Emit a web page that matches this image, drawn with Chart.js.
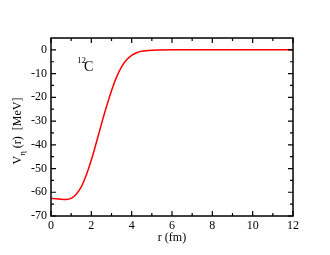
<!DOCTYPE html>
<html>
<head>
<meta charset="utf-8">
<script src="https://cdn.jsdelivr.net/npm/chart.js@4.4.0/dist/chart.umd.min.js"></script>
<style>
  html, body { margin: 0; padding: 0; background: #fff; }
  #wrap { width: 330px; height: 255px; position: relative; }
</style>
</head>
<body>
<div id="wrap"><canvas id="pot"></canvas></div>
<script>
// potencial V_eta(r) para 12C
const rVals = [0, 0.25, 0.5, 0.75, 1.0, 1.25, 1.5, 1.75, 2.0, 2.25, 2.5, 2.75, 3.0, 3.25, 3.5, 3.75, 4.0, 4.25, 4.5, 5.0, 5.5, 6, 7, 8, 9, 10, 11, 12];
const vVals = [-62.6, -62.7, -62.9, -63.0, -62.6, -60.8, -57.7, -52.7, -46.4, -39.0, -31.3, -24.0, -17.2, -11.5, -7.2, -4.2, -2.3, -1.2, -0.6, -0.15, -0.05, 0, 0, 0, 0, 0, 0, 0];
const xTicks = [0, 2, 4, 6, 8, 10, 12];
const yTicks = [-70, -60, -50, -40, -30, -20, -10, 0];

const SERIF = "'Liberation Serif', 'DejaVu Serif', serif";

// ticks hacia adentro en los cuatro lados + títulos
const frame = {
  id: 'frame',
  afterDraw(c) {
    const { ctx, chartArea: a, scales: { x, y } } = c;
    ctx.save();
    ctx.strokeStyle = '#000';
    ctx.lineWidth = 1.5;
    ctx.strokeRect(a.left, a.top, a.right - a.left, a.bottom - a.top);
    ctx.lineWidth = 1.2;
    ctx.beginPath();
    for (let v = 0; v <= 12; v++) {
      const px = x.getPixelForValue(v);
      const len = v % 2 === 0 ? 5 : 3;
      ctx.moveTo(px, a.bottom); ctx.lineTo(px, a.bottom - len);
      ctx.moveTo(px, a.top); ctx.lineTo(px, a.top + len);
    }
    for (let v = -70; v <= 0; v += 5) {
      const py = y.getPixelForValue(v);
      const len = v % 10 === 0 ? 5 : 3;
      ctx.moveTo(a.left, py); ctx.lineTo(a.left + len, py);
      ctx.moveTo(a.right, py); ctx.lineTo(a.right - len, py);
    }
    ctx.stroke();

    // título eje y: V_η (r)  [MeV]
    ctx.fillStyle = '#000';
    ctx.translate(21, (a.top + a.bottom) / 2 + 4);
    ctx.rotate(-Math.PI / 2);
    ctx.textBaseline = 'alphabetic';
    const parts = [['V', 0, 12], ['η', 4, 9], [' (r)  [MeV]', 0, 12]];
    const total = parts.reduce((s, p) => { ctx.font = p[2] + 'px ' + SERIF; return s + ctx.measureText(p[0]).width; }, 0);
    let cx = -total / 2;
    parts.forEach((p) => {
      ctx.font = p[2] + 'px ' + SERIF;
      ctx.fillText(p[0], cx, p[1]);
      cx += ctx.measureText(p[0]).width;
    });
    ctx.setTransform(1, 0, 0, 1, 0, 0);

    // título eje x
    ctx.font = '12px ' + SERIF;
    ctx.textAlign = 'center';
    ctx.fillText('r (fm)', (a.left + a.right) / 2, 241);

    // etiqueta 12C
    ctx.textAlign = 'left';
    ctx.font = '9px ' + SERIF;
    ctx.fillText('12', 77, 63);
    ctx.font = '14px ' + SERIF;
    ctx.fillText('C', 84, 71);
    ctx.restore();
  },
};

new Chart(document.getElementById('pot'), {
  type: 'line',
  data: {
    datasets: [{
      data: rVals.map((r, i) => ({ x: r, y: vVals[i] })),
      borderColor: '#ff0000',
      borderWidth: 1.5,
      pointRadius: 0,
      fill: false,
      cubicInterpolationMode: 'monotone',
    }],
  },
  options: {
    responsive: true,
    maintainAspectRatio: false,
    animation: false,
    layout: { padding: { left: 0, top: 38, right: 37, bottom: 0 } },
    plugins: { legend: { display: false }, tooltip: { enabled: false } },
    scales: {
      x: {
        type: 'linear', min: 0, max: 12,
        grid: { display: false, drawTicks: false }, border: { display: false },
        afterBuildTicks: (s) => { s.ticks = xTicks.map((v) => ({ value: v })); },
        afterFit: (s) => { s.height = 39; },
        ticks: { color: '#000', padding: 3, maxRotation: 0, font: { family: SERIF, size: 12 } },
      },
      y: {
        min: -70, max: 5,
        grid: { display: false, drawTicks: false }, border: { display: false },
        afterBuildTicks: (s) => { s.ticks = yTicks.map((v) => ({ value: v })); },
        afterFit: (s) => { s.width = 51; },
        ticks: { color: '#000', padding: 4, font: { family: SERIF, size: 12 } },
      },
    },
  },
  plugins: [frame],
});
</script>
</body>
</html>
